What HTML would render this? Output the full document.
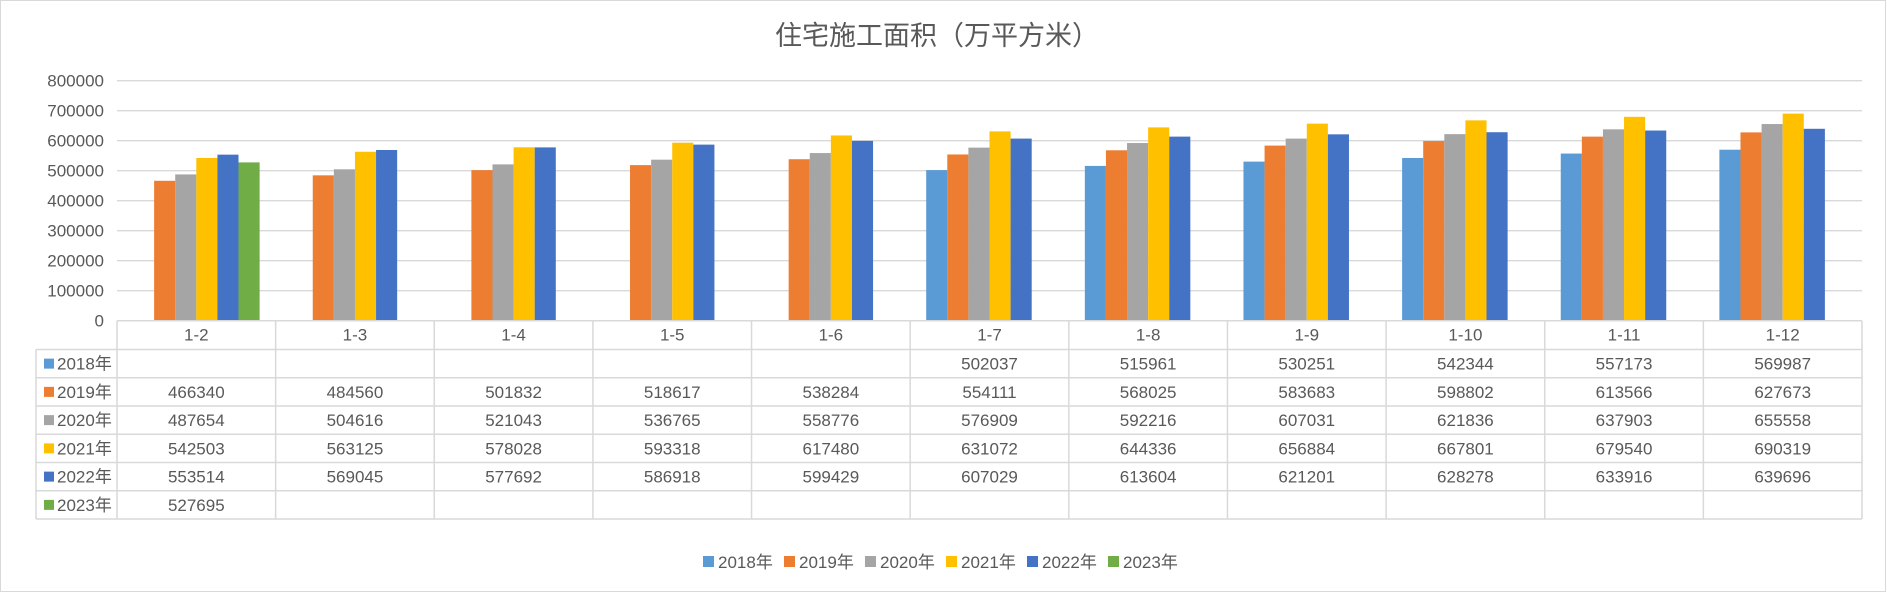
<!DOCTYPE html>
<html><head><meta charset="utf-8"><style>
html,body{margin:0;padding:0;background:#fff;}
svg{display:block;font-family:"Liberation Sans","Noto Sans CJK SC",sans-serif;}
</style></head><body>
<svg id="chart" width="1887" height="593" viewBox="0 0 1887 593" xmlns="http://www.w3.org/2000/svg">
<rect x="0.5" y="0.5" width="1885" height="591" fill="#fff" stroke="#d9d9d9"/>
<text x="937" y="45" text-anchor="middle" font-size="27" fill="#595959">住宅施工面积（万平方米）</text>
<g id="grid"></g><g id="bars"></g><g id="table"></g><g id="legend"></g>
</svg>
<script>
const categories=["1-2","1-3","1-4","1-5","1-6","1-7","1-8","1-9","1-10","1-11","1-12"];
const seriesNames=["2018年","2019年","2020年","2021年","2022年","2023年"];
const s2018=[null,null,null,null,null,502037,515961,530251,542344,557173,569987];
const s2019=[466340,484560,501832,518617,538284,554111,568025,583683,598802,613566,627673];
const s2020=[487654,504616,521043,536765,558776,576909,592216,607031,621836,637903,655558];
const s2021=[542503,563125,578028,593318,617480,631072,644336,656884,667801,679540,690319];
const s2022=[553514,569045,577692,586918,599429,607029,613604,621201,628278,633916,639696];
const s2023=[527695,null,null,null,null,null,null,null,null,null,null];
const yTicks=[0,100000,200000,300000,400000,500000,600000,700000,800000];
const series=[s2018,s2019,s2020,s2021,s2022,s2023];
const colors=["#5b9bd5","#ed7d31","#a5a5a5","#ffc000","#4472c4","#70ad47"];
const NS="http://www.w3.org/2000/svg";
const L=117,R=1862,Y0=320.7,YMAX=80.7,VMAX=800000;
const cw=(R-L)/categories.length, bw=21.1;
const y=v=>Y0-(v/VMAX)*(Y0-YMAX);
const xc=i=>L+i*cw;
function mk(tag,attrs,parent,text){const e=document.createElementNS(NS,tag);for(const k in attrs)e.setAttribute(k,attrs[k]);if(text!=null)e.textContent=text;parent.appendChild(e);return e;}
const grid=document.getElementById('grid');
yTicks.forEach(t=>{
  if(t>0){const l=mk('line',{x1:L,x2:R,y1:y(t),y2:y(t),stroke:'#d9d9d9','stroke-width':1.3},grid);
  
  }
  const tx=mk('text',{x:104,y:y(t)+6,'text-anchor':'end','font-size':17,fill:'#595959'},grid,String(t));
  
  
});
const bars=document.getElementById('bars');
const pad=(cw-bw*6)/2;
categories.forEach((c,i)=>{
  series.forEach((s,j)=>{
    const v=s[i]; if(v==null) return;
    const r=mk('rect',{x:xc(i)+pad+j*bw,y:y(v),width:bw,height:Y0-y(v),fill:colors[j]},bars);
    
    
  });
});
const tb=document.getElementById('table');
const rowTop=349.5,rh=28.25,TL=36,st='#d9d9d9';
mk('line',{x1:L,x2:R,y1:Y0,y2:Y0,stroke:st,'stroke-width':1.5},tb);
for(let r=0;r<=6;r++) mk('line',{x1:TL,x2:R,y1:rowTop+r*rh,y2:rowTop+r*rh,stroke:st,'stroke-width':1.5},tb);
mk('line',{x1:TL,x2:TL,y1:rowTop,y2:rowTop+6*rh,stroke:st,'stroke-width':1.5},tb);
for(let i=0;i<=categories.length;i++) mk('line',{x1:xc(i),x2:xc(i),y1:Y0,y2:rowTop+6*rh,stroke:st,'stroke-width':1.5},tb);
categories.forEach((c,i)=>{
  const t=mk('text',{x:xc(i)+cw/2,y:Y0+20,'text-anchor':'middle','font-size':17,fill:'#595959'},tb,c);
  
  
});
series.forEach((s,j)=>{
  const cy=rowTop+j*rh+rh/2;
  const sw=mk('rect',{x:44,y:cy-5,width:10,height:10,fill:colors[j]},tb);
  
  
  const lb=mk('text',{x:57,y:cy+6,'font-size':17,fill:'#595959'},tb,seriesNames[j]);
  
  
  s.forEach((v,i)=>{ if(v==null) return;
    const t=mk('text',{x:xc(i)+cw/2,y:cy+6,'text-anchor':'middle','font-size':17,fill:'#595959'},tb,String(v));
    
    
  });
});
const lg=document.getElementById('legend');
let lx=703;
seriesNames.forEach((n,j)=>{
  const g=mk('g',{},lg);
  
  
  mk('rect',{x:lx,y:556,width:11,height:11,fill:colors[j]},g);
  mk('text',{x:lx+15,y:568,'font-size':17,fill:'#595959'},g,n);
  lx+=81;
});
</script>
</body></html>
